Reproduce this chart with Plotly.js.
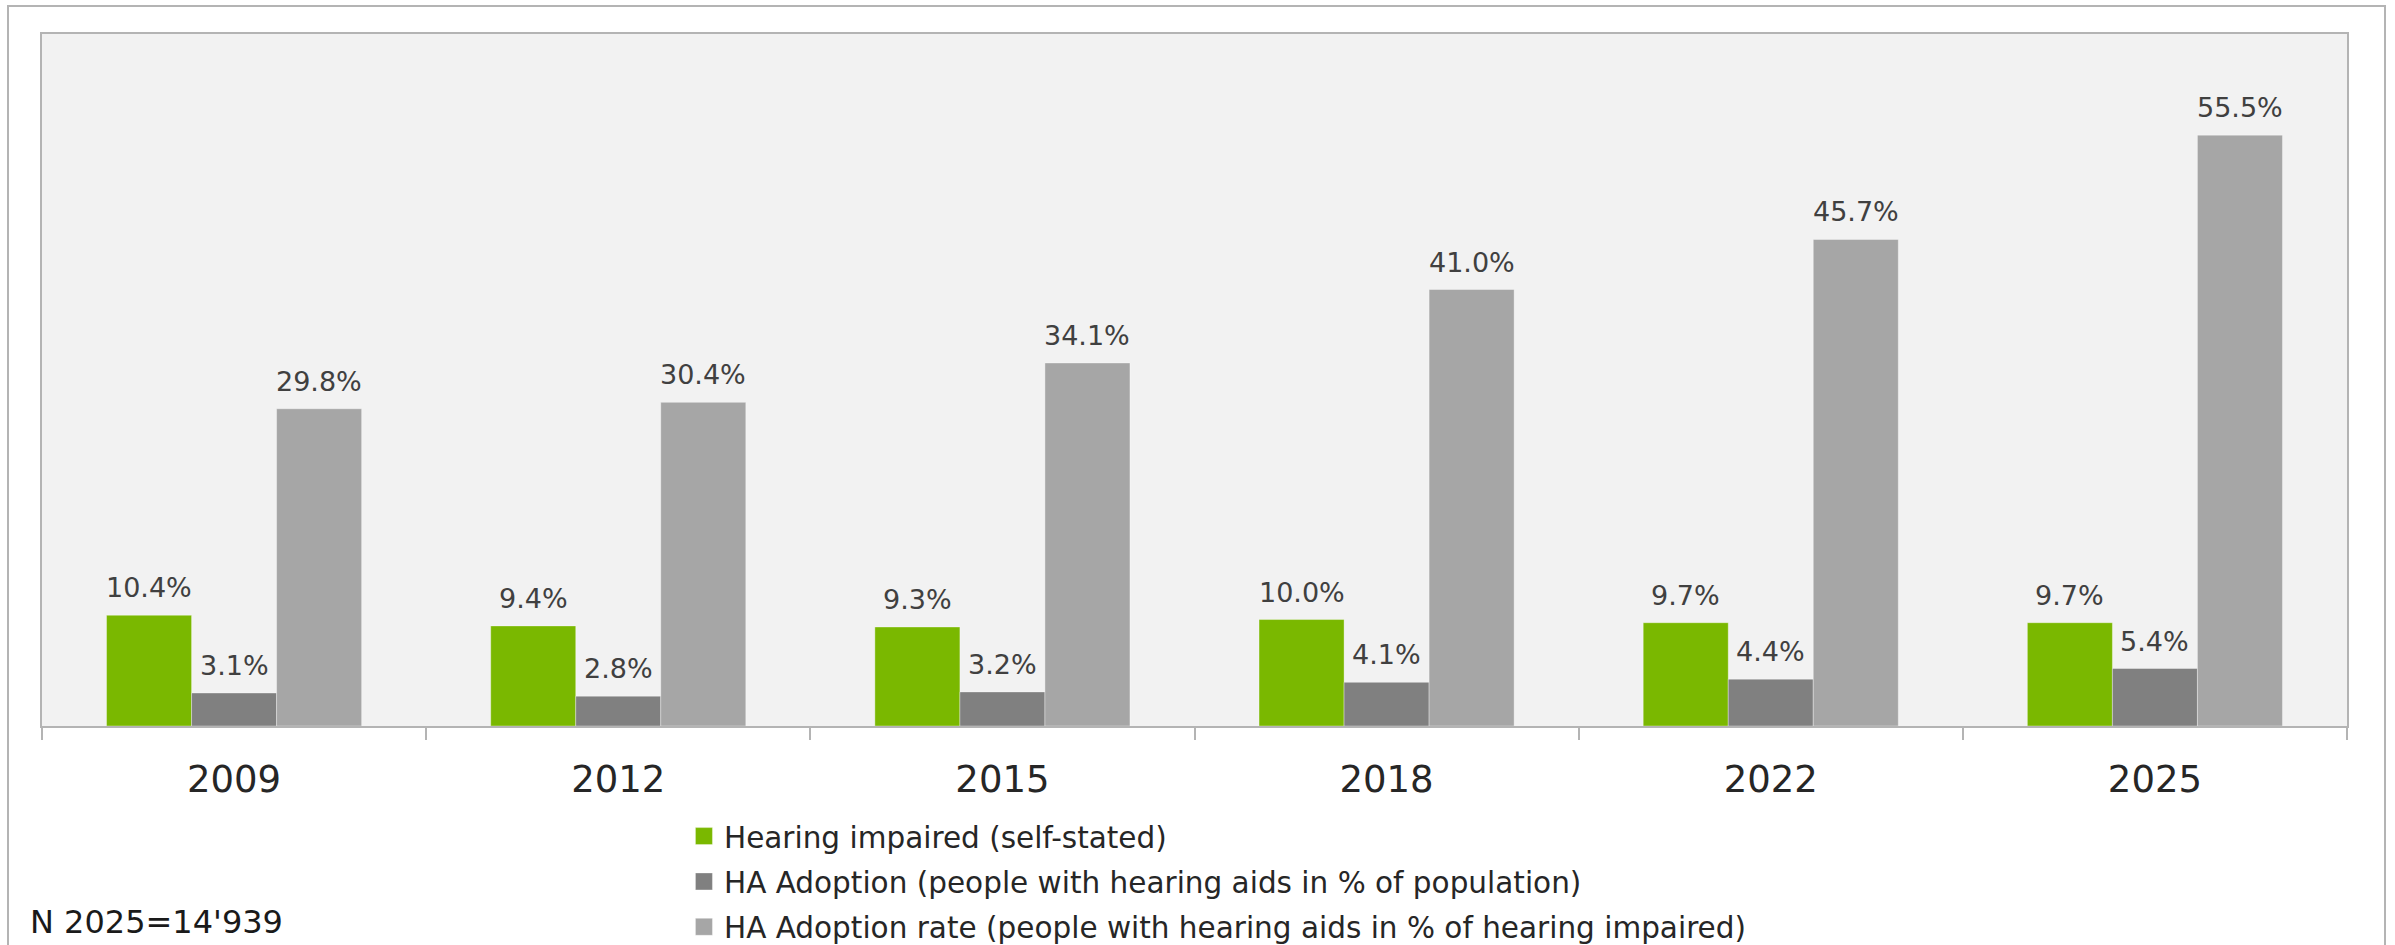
<!DOCTYPE html>
<html>
<head>
<meta charset="utf-8">
<script src="https://cdn.plot.ly/plotly-3.0.1.min.js"></script>
<style>
  html, body { margin: 0; background: #fff; overflow: hidden; }
  #frame { position: absolute; left: 7px; top: 5px; width: 2379px; height: 990px; border: 2px solid #b4b4b4; box-sizing: border-box; }
  #chart { position: absolute; left: 0; top: 0; width: 2395px; height: 1000px; }
</style>
</head>
<body>
<div id="frame"></div>
<div id="chart"></div>
<script>
var years = ['2009', '2012', '2015', '2018', '2022', '2025'];
var impaired = [10.4, 9.4, 9.3, 10.0, 9.7, 9.7];
var adoption = [3.1, 2.8, 3.2, 4.1, 4.4, 5.4];
var adoptionRate = [29.8, 30.4, 34.1, 41.0, 45.7, 55.5];
var names = [
    'Hearing impaired (self-stated)',
    'HA Adoption (people with hearing aids in % of population)',
    'HA Adoption rate (people with hearing aids in % of hearing impaired)'
];
var colors = ['#7ab800', '#808080', '#a6a6a6'];
var series = [impaired, adoption, adoptionRate];

var data = series.map(function(vals, i) {
    return {
        type: 'bar',
        x: years,
        y: vals,
        name: names[i],
        legendgroup: 'g' + i,
        marker: {color: colors[i], line: {width: 1, color: 'rgba(255,255,255,0.35)'}},
        hoverinfo: 'skip'
    };
});

// value labels above each bar (x given as category index)
var annotations = [];
series.forEach(function(vals, i) {
    vals.forEach(function(v, j) {
        annotations.push({
            x: j, y: v, xref: 'x', yref: 'y',
            text: v.toFixed(1) + '%',
            showarrow: false,
            xshift: (i - 1) * 85,
            yanchor: 'bottom',
            yshift: 10,
            font: {family: 'DejaVu Sans', size: 27, color: '#404040'}
        });
    });
});
annotations.push({
    xref: 'paper', yref: 'paper', x: -0.0061, y: -0.314,
    xanchor: 'left', yanchor: 'bottom', showarrow: false,
    text: "N 2025=14'939",
    font: {family: 'DejaVu Sans', size: 32, color: '#1a1a1a'}
});

// the page is 945px tall; the chart runs a bit past it so the legend
// doesn't push the plot area up
var layout = {
    width: 2395,
    height: 1000,
    margin: {l: 42, r: 48, t: 34, b: 274},
    paper_bgcolor: 'rgba(0,0,0,0)',
    plot_bgcolor: '#f2f2f2',
    barmode: 'group',
    bargap: 0.336,
    bargroupgap: 0,
    font: {family: 'DejaVu Sans', color: '#262626'},
    xaxis: {
        type: 'category',
        range: [-0.5, 5.5],
        showline: true, linecolor: '#b4b4b4', linewidth: 2, mirror: true,
        ticks: 'outside', tickson: 'boundaries', ticklen: 12, tickwidth: 2, tickcolor: '#b4b4b4',
        tickfont: {size: 37, color: '#262626'},
        ticklabelstandoff: 20,
        showgrid: false, zeroline: false, fixedrange: true
    },
    yaxis: {
        range: [0, 65],
        showline: true, linecolor: '#b4b4b4', linewidth: 2, mirror: true,
        showticklabels: false, ticks: '', showgrid: false, zeroline: false, fixedrange: true
    },
    showlegend: true,
    legend: {
        orientation: 'v',
        x: 0.2785, xanchor: 'left',
        y: -0.122, yanchor: 'top',
        bgcolor: 'rgba(0,0,0,0)',
        font: {family: 'DejaVu Sans', size: 29.5, color: '#262626'},
        tracegroupgap: 4,
        traceorder: 'grouped'
    },
    annotations: annotations
};

Plotly.newPlot('chart', data, layout, {displayModeBar: false, staticPlot: true}).then(function(gd) {
    // bigger legend squares, as in the original
    gd.querySelectorAll('.legendpoints path').forEach(function(p) {
        p.setAttribute('d', 'M8.5,8.5H-8.5V-8.5H8.5Z');
    });
});
</script>
</body>
</html>
